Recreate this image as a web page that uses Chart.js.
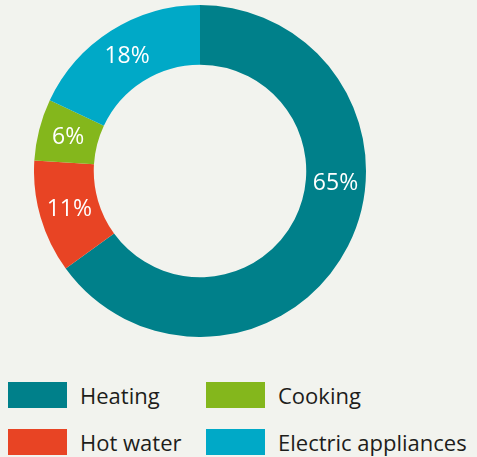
<!DOCTYPE html>
<html>
<head>
<meta charset="utf-8">
<script src="https://cdn.jsdelivr.net/npm/chart.js@4"></script>
<style>
    html, body { margin: 0; padding: 0; }
    body {
        width: 477px;
        height: 457px;
        background: #F2F3EE;
        position: relative;
        overflow: hidden;
        font-family: "Open Sans", "DejaVu Sans", sans-serif;
    }
    #chartBox {
        position: absolute;
        left: 34px;
        top: 5px;
        width: 332px;
        height: 332px;
    }
    .legend-item {
        position: absolute;
        height: 26px;
        display: flex;
        align-items: center;
        font-size: 22px;
        color: #1d1d1b;
        white-space: nowrap;
    }
    .legend-item .swatch {
        width: 59px;
        height: 26px;
        margin-right: 13px;
        flex: none;
    }
</style>
</head>
<body>
<div id="chartBox"><canvas id="energyChart" width="332" height="332"></canvas></div>
<div id="legend"></div>

<script>
// Data
const categories = ['Heating', 'Hot water', 'Cooking', 'Electric appliances'];
const shares = [65, 11, 6, 18];
const sliceColors = ['#00808A', '#E84424', '#84B71C', '#00A9C7'];

// legend grid order (row by row)
const legendOrder = ['Heating', 'Cooking', 'Hot water', 'Electric appliances'];

// Percentage labels drawn in the middle of the ring
const ringLabels = {
    id: 'ringLabels',
    afterDatasetsDraw(chart) {
        const ctx = chart.ctx;
        const meta = chart.getDatasetMeta(0);
        ctx.save();
        ctx.fillStyle = '#ffffff';
        ctx.font = '23px "Open Sans", "DejaVu Sans", sans-serif';
        ctx.textAlign = 'center';
        ctx.textBaseline = 'middle';
        meta.data.forEach((arc, i) => {
            const p = arc.getProps(['x', 'y', 'startAngle', 'endAngle', 'innerRadius', 'outerRadius']);
            let angle = (p.startAngle + p.endAngle) / 2;
            // the big slice has its label pulled up to the right side
            if (i === 0) angle = p.startAngle + Math.PI * 0.53;
            const r = (p.innerRadius + p.outerRadius) / 2;
            ctx.fillText(shares[i] + '%', p.x + Math.cos(angle) * r, p.y + Math.sin(angle) * r);
        });
        ctx.restore();
    }
};

// Chart
new Chart(document.getElementById('energyChart'), {
    type: 'doughnut',
    data: {
        labels: categories,
        datasets: [{
            data: shares,
            backgroundColor: sliceColors,
            borderWidth: 0
        }]
    },
    options: {
        responsive: false,
        animation: false,
        cutout: '64%',
        plugins: {
            legend: { display: false },
            tooltip: { enabled: false }
        }
    },
    plugins: [ringLabels]
});

// Legend
const legend = document.getElementById('legend');
const colLeft = [8, 206];
const rowTop = [382, 429];
legendOrder.forEach((name, k) => {
    const i = categories.indexOf(name);
    const item = document.createElement('div');
    item.className = 'legend-item';
    item.style.left = colLeft[k % 2] + 'px';
    item.style.top = rowTop[Math.floor(k / 2)] + 'px';
    item.innerHTML = '<span class="swatch" style="background:' + sliceColors[i] + '"></span>' + name;
    legend.appendChild(item);
});
</script>
</body>
</html>
